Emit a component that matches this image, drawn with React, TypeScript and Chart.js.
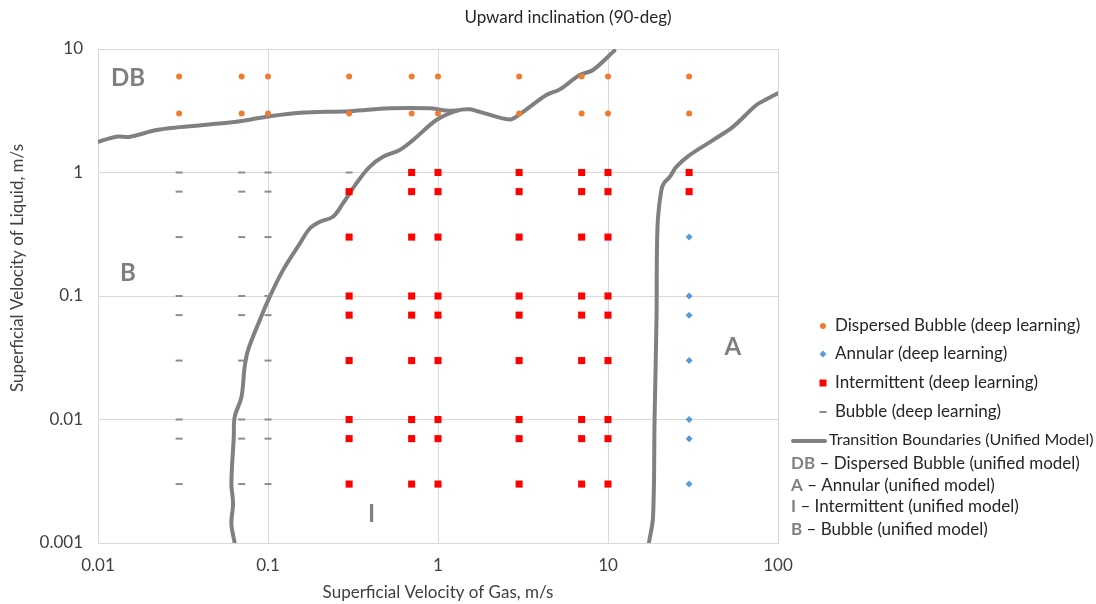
import React, { useEffect, useRef } from "react";
import { Chart, registerables } from "chart.js";

Chart.register(...registerables);

const FONT = "Lato, 'Open Sans', sans-serif";
const TEXT = "#404040";
const REGION = "#7f7f7f";

const chartTitle = "Upward inclination (90-deg)";
const xAxisTitle = "Superficial Velocity of Gas, m/s";
const yAxisTitle = "Superficial Velocity of Liquid, m/s";

const xTickValues = [0.01, 0.1, 1, 10, 100];
const xTickLabels = ["0.01", "0.1", "1", "10", "100"];
const yTickValues = [0.001, 0.01, 0.1, 1, 10];
const yTickLabels = ["0.001", "0.01", "0.1", "1", "10"];

// Deep-learning classified test points: gas velocity with the liquid velocities tested
const dispersedGroups = [
  { gas: 0.03, liquid: [6, 3] },
  { gas: 0.07, liquid: [6, 3] },
  { gas: 0.1, liquid: [6, 3] },
  { gas: 0.3, liquid: [6, 3] },
  { gas: 0.7, liquid: [6, 3] },
  { gas: 1, liquid: [6, 3] },
  { gas: 3, liquid: [6, 3] },
  { gas: 7, liquid: [6, 3] },
  { gas: 10, liquid: [6, 3] },
  { gas: 30, liquid: [6, 3] },
];
const annularGroups = [
  { gas: 30, liquid: [0.3, 0.1, 0.07, 0.03, 0.01, 0.007, 0.003] },
];
const intermittentGroups = [
  { gas: 0.3, liquid: [0.7, 0.3, 0.1, 0.07, 0.03, 0.01, 0.007, 0.003] },
  { gas: 0.7, liquid: [1, 0.7, 0.3, 0.1, 0.07, 0.03, 0.01, 0.007, 0.003] },
  { gas: 1, liquid: [1, 0.7, 0.3, 0.1, 0.07, 0.03, 0.01, 0.007, 0.003] },
  { gas: 3, liquid: [1, 0.7, 0.3, 0.1, 0.07, 0.03, 0.01, 0.007, 0.003] },
  { gas: 7, liquid: [1, 0.7, 0.3, 0.1, 0.07, 0.03, 0.01, 0.007, 0.003] },
  { gas: 10, liquid: [1, 0.7, 0.3, 0.1, 0.07, 0.03, 0.01, 0.007, 0.003] },
  { gas: 30, liquid: [1, 0.7] },
];
const bubbleGroups = [
  { gas: 0.03, liquid: [1, 0.7, 0.3, 0.1, 0.07, 0.03, 0.01, 0.007, 0.003] },
  { gas: 0.07, liquid: [1, 0.7, 0.3, 0.1, 0.07, 0.03, 0.01, 0.007, 0.003] },
  { gas: 0.1, liquid: [1, 0.7, 0.3, 0.1, 0.07, 0.03, 0.01, 0.007, 0.003] },
  { gas: 0.3, liquid: [1] },
];

// Unified model transition boundaries [gas, liquid]
const dbBoundary: [number, number][] = [
  [0.01, 1.77], [0.0128, 1.95], [0.0154, 1.95], [0.0221, 2.21], [0.0303, 2.33],
  [0.0652, 2.58], [0.098, 2.83], [0.154, 3.05], [0.302, 3.14], [0.52, 3.31],
  [0.894, 3.31], [1.12, 3.18], [1.3, 3.17],
];
const intermittentBoundary: [number, number][] = [
  [0.0637, 0.001], [0.0609, 0.00143], [0.0623, 0.00208], [0.0609, 0.00303],
  [0.0629, 0.0072], [0.0637, 0.0105], [0.0698, 0.0152], [0.0729, 0.0266],
  [0.0763, 0.0364], [0.0894, 0.0637], [0.1023, 0.0984], [0.1226, 0.162],
  [0.154, 0.266], [0.176, 0.352], [0.201, 0.398], [0.241, 0.438],
  [0.276, 0.562], [0.331, 0.816], [0.396, 1.11], [0.475, 1.34], [0.595, 1.52],
  [0.713, 1.83], [0.979, 2.66], [1.28, 3.16], [1.54, 3.25], [1.76, 3.1],
  [2.64, 2.69], [3.03, 2.97], [4.34, 4.24], [5.2, 4.71], [6.82, 6.15],
  [8.16, 6.76], [10.9, 9.7],
];
const annularBoundary: [number, number][] = [
  [17.4, 0.001], [18.4, 0.00162], [18.8, 0.0105], [19.3, 0.0678], [19.4, 0.235],
  [19.7, 0.438], [20.6, 0.72], [21.3, 0.816], [23.1, 0.923], [25.2, 1.11],
  [30.2, 1.38], [41.5, 1.83], [54.3, 2.34], [74.6, 3.52], [85.5, 3.91], [100, 4.38],
];

// Region labels of the unified model [text, gas, liquid]
const regionLabels: [string, number, number][] = [
  ["DB", 0.015, 5.8],
  ["B", 0.015, 0.153],
  ["I", 0.407, 0.0017],
  ["A", 54.2, 0.0385],
];

const deepLegend = [
  { label: "Dispersed Bubble (deep learning)", kind: "circle", color: "#ED7D31" },
  { label: "Annular (deep learning)", kind: "diamond", color: "#5B9BD5" },
  { label: "Intermittent (deep learning)", kind: "square", color: "#FF0000" },
  { label: "Bubble (deep learning)", kind: "dash", color: "#8c8c8c" },
];
const modelLegend = [
  { abbr: "DB", label: " \u2013 Dispersed Bubble (unified model)" },
  { abbr: "A", label: " \u2013 Annular (unified model)" },
  { abbr: "I", label: " \u2013 Intermittent (unified model)" },
  { abbr: "B", label: " \u2013 Bubble (unified model)" },
];

const toPoints = (groups: { gas: number; liquid: number[] }[]) =>
  groups.flatMap((g) => g.liquid.map((l) => ({ x: g.gas, y: l })));
const curve = (pts: [number, number][]) => pts.map(([x, y]) => ({ x, y }));

const textPlugin = {
  id: "texts",
  afterDraw(chart: any) {
    const ctx = chart.ctx as CanvasRenderingContext2D;
    const xs = chart.scales.x;
    const ys = chart.scales.y;
    ctx.save();
    ctx.textBaseline = "middle";
    // title
    ctx.fillStyle = "#262626";
    ctx.textAlign = "center";
    ctx.font = `17px ${FONT}`;
    ctx.fillText(chartTitle, 568, 18);
    // axis titles
    ctx.fillStyle = TEXT;
    ctx.font = `17px ${FONT}`;
    ctx.fillText(xAxisTitle, 438, 593);
    ctx.save();
    ctx.translate(18, 268);
    ctx.rotate(-Math.PI / 2);
    ctx.fillText(yAxisTitle, 0, 0);
    ctx.restore();
    // region labels
    ctx.fillStyle = REGION;
    ctx.font = `bold 24px ${FONT}`;
    regionLabels.forEach(([t, gx, ly]) => {
      ctx.fillText(t, xs.getPixelForValue(gx), ys.getPixelForValue(ly));
    });
    // legend
    ctx.textAlign = "left";
    ctx.font = `17px ${FONT}`;
    const rowY = [326, 354, 383, 412];
    deepLegend.forEach((item, i) => {
      const cx = 823;
      const cy = rowY[i];
      ctx.fillStyle = item.color;
      ctx.strokeStyle = item.color;
      if (item.kind === "circle") {
        ctx.beginPath();
        ctx.arc(cx, cy, 3, 0, Math.PI * 2);
        ctx.fill();
      } else if (item.kind === "diamond") {
        ctx.beginPath();
        ctx.moveTo(cx, cy - 3.5);
        ctx.lineTo(cx + 3.5, cy);
        ctx.lineTo(cx, cy + 3.5);
        ctx.lineTo(cx - 3.5, cy);
        ctx.closePath();
        ctx.fill();
      } else if (item.kind === "square") {
        ctx.fillRect(cx - 3.5, cy - 3.5, 7, 7);
      } else {
        ctx.fillRect(cx - 3.5, cy - 1, 7, 2);
      }
      ctx.fillStyle = "#262626";
      ctx.fillText(item.label, 835, cy);
    });
    ctx.strokeStyle = "#808080";
    ctx.lineWidth = 4;
    ctx.lineCap = "round";
    ctx.beginPath();
    ctx.moveTo(793, 441);
    ctx.lineTo(825, 441);
    ctx.stroke();
    ctx.fillStyle = "#262626";
    ctx.font = `16px ${FONT}`;
    ctx.fillText("Transition Boundaries (Unified Model)", 829, 440);
    const modelY = [464, 486, 507, 530];
    modelLegend.forEach((m, i) => {
      ctx.font = `bold 17px ${FONT}`;
      ctx.fillStyle = REGION;
      ctx.fillText(m.abbr, 791, modelY[i]);
      const w = ctx.measureText(m.abbr).width;
      ctx.font = `17px ${FONT}`;
      ctx.fillStyle = "#262626";
      ctx.fillText(m.label, 791 + w, modelY[i]);
    });
    ctx.restore();
  },
};

export default function App() {
  const ref = useRef<HTMLCanvasElement | null>(null);
  useEffect(() => {
    if (!ref.current) return;
    const lineStyle = {
      showLine: true,
      borderColor: "#808080",
      borderWidth: 4,
      pointRadius: 0,
      tension: 0.35,
      borderCapStyle: "round" as const,
      borderJoinStyle: "round" as const,
    };
    const chart = new Chart(ref.current, {
      type: "scatter",
      data: {
        datasets: [
          {
            label: "Dispersed Bubble (deep learning)",
            data: toPoints(dispersedGroups),
            pointStyle: "circle",
            pointRadius: 3,
            backgroundColor: "#ED7D31",
            borderColor: "#ED7D31",
            borderWidth: 0,
          },
          {
            label: "Annular (deep learning)",
            data: toPoints(annularGroups),
            pointStyle: "rectRot",
            pointRadius: 3.5,
            backgroundColor: "#5B9BD5",
            borderColor: "#5B9BD5",
            borderWidth: 0,
          },
          {
            label: "Intermittent (deep learning)",
            data: toPoints(intermittentGroups),
            pointStyle: "rect",
            pointRadius: 5,
            backgroundColor: "#FF0000",
            borderColor: "#FF0000",
            borderWidth: 0,
          },
          {
            label: "Bubble (deep learning)",
            data: toPoints(bubbleGroups),
            pointStyle: "line",
            pointRadius: 3.5,
            backgroundColor: "#8c8c8c",
            borderColor: "#8c8c8c",
            borderWidth: 2,
          },
          { label: "DB boundary", data: curve(dbBoundary), ...lineStyle },
          { label: "I boundary", data: curve(intermittentBoundary), ...lineStyle },
          { label: "A boundary", data: curve(annularBoundary), ...lineStyle },
        ],
      },
      options: {
        animation: false,
        responsive: false,
        maintainAspectRatio: false,
        layout: { padding: { top: 49, right: 318, left: 0, bottom: 0 } },
        plugins: {
          legend: { display: false },
          tooltip: { enabled: false },
          title: { display: false },
        },
        scales: {
          x: {
            type: "logarithmic",
            min: 0.01,
            max: 100,
            afterBuildTicks: (s: any) => {
              s.ticks = xTickValues.map((v) => ({ value: v }));
            },
            afterFit: (s: any) => {
              s.height = 61;
            },
            ticks: {
              autoSkip: false,
              maxRotation: 0,
              padding: 12,
              color: TEXT,
              font: { family: FONT, size: 17 },
              callback: (_v: any, i: number) => xTickLabels[i],
            },
            grid: { color: "#d9d9d9", drawTicks: false },
            border: { color: "#d9d9d9" },
          },
          y: {
            type: "logarithmic",
            min: 0.001,
            max: 10,
            afterBuildTicks: (s: any) => {
              s.ticks = yTickValues.map((v) => ({ value: v }));
            },
            afterFit: (s: any) => {
              s.width = 98;
            },
            ticks: {
              autoSkip: false,
              padding: 15,
              color: TEXT,
              font: { family: FONT, size: 17 },
              callback: (_v: any, i: number) => yTickLabels[i],
            },
            grid: { color: "#d9d9d9", drawTicks: false },
            border: { color: "#d9d9d9" },
          },
        },
      },
      plugins: [textPlugin],
    });
    return () => chart.destroy();
  }, []);
  return (
    <div style={{ position: "fixed", left: 0, top: 0, width: 1096, height: 604, background: "#fff" }}>
      <canvas ref={ref} width={1096} height={604} style={{ width: 1096, height: 604 }} />
    </div>
  );
}
